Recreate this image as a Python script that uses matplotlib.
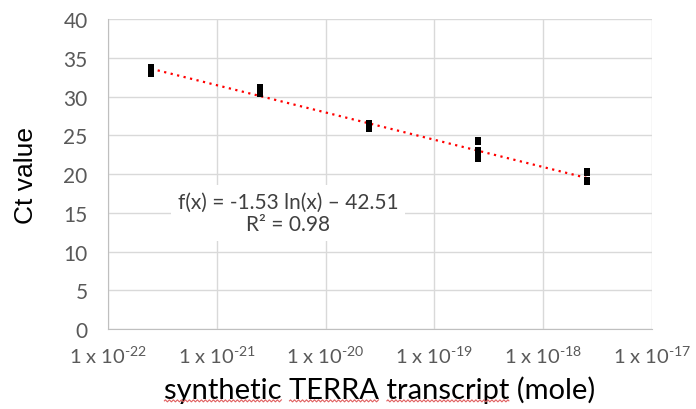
import matplotlib
matplotlib.use("Agg")
import matplotlib.pyplot as plt
import numpy as np
from matplotlib.ticker import FixedLocator, FuncFormatter, NullLocator
from matplotlib.lines import Line2D

# data
x_mole = [2.5e-22, 2.5e-22, 2.5e-21, 2.5e-21, 2.5e-20, 2.5e-20,
          2.5e-19, 2.5e-19, 2.5e-19, 2.5e-18, 2.5e-18]
ct = [33.7, 33.0, 31.1, 30.5, 26.5, 25.9, 24.3, 23.0, 22.1, 20.3, 19.1]
slope = -1.53
intercept = -42.51
r2 = 0.98
x_ticks = [1e-22, 1e-21, 1e-20, 1e-19, 1e-18, 1e-17]
y_ticks = [0, 5, 10, 15, 20, 25, 30, 35, 40]
xlabel_text = 'synthetic TERRA transcript (mole)'
flagged_words = ['synthetic', 'TERRA', 'transcript']

plt.rcParams['font.family'] = ['Lato', 'DejaVu Sans']
plt.rcParams['mathtext.fontset'] = 'custom'
plt.rcParams['mathtext.rm'] = 'Lato'
plt.rcParams['mathtext.it'] = 'Lato'

fig = plt.figure(figsize=(6.96, 4.10), dpi=100)
ax = fig.add_axes([0.155, 0.195, 0.782, 0.756])

ax.set_xscale('log')
ax.set_xlim(1e-22, 1e-17)
ax.set_ylim(0, 40)
ax.xaxis.set_major_locator(FixedLocator(x_ticks))
ax.xaxis.set_minor_locator(NullLocator())
ax.set_yticks(y_ticks)

def fmt(v, pos):
    e = int(round(np.log10(v)))
    return r'1 x 10$^{\text{-%d}}$' % abs(e)
ax.xaxis.set_major_formatter(FuncFormatter(fmt))

ax.grid(True, color='#d9d9d9', linewidth=1.0)
ax.set_axisbelow(True)
for s in ['top', 'right']:
    ax.spines[s].set_visible(False)
for s in ['left', 'bottom']:
    ax.spines[s].set_color('#bfbfbf')
ax.tick_params(axis='both', length=0, colors='#595959')
ax.tick_params(axis='y', pad=14.5, labelsize=15)
ax.tick_params(axis='x', pad=11, labelsize=14.5)

# trendline
xs = np.logspace(np.log10(min(x_mole)), np.log10(max(x_mole)), 50)
ax.plot(xs, slope * np.log(xs) + intercept, color='#ff0000',
        linestyle=(0, (1, 2)), linewidth=1.6, zorder=3)

rect = [(-0.45, -0.5), (0.45, -0.5), (0.45, 0.5), (-0.45, 0.5), (-0.45, -0.5)]
ax.scatter(x_mole, ct, marker=rect, s=28, color='black', zorder=4, linewidths=0)

ax.text(4.5e-21, 15.0, 'f(x) = %.2f ln(x) – %.2f\nR² = %.2f' % (slope, -intercept, r2),
        ha='center', va='center', fontsize=15, color='#404040', linespacing=1.15,
        bbox=dict(facecolor='white', edgecolor='none', pad=5))

ax.set_ylabel('Ct value', fontsize=19, color='black', labelpad=18,
              family=['Liberation Sans', 'DejaVu Sans'])
ax.set_xlabel(xlabel_text, fontsize=21, color='black', labelpad=7)

# red spell-check squiggles under flagged words
fig.canvas.draw()
renderer = fig.canvas.get_renderer()
lab = ax.xaxis.label
bb = lab.get_window_extent(renderer)
prop = lab.get_fontproperties()
full_w, _, desc = renderer.get_text_width_height_descent(xlabel_text, prop, ismath=False)
x_start = bb.x0 + (bb.width - full_w) / 2
base_y = bb.y0 + desc
W, H = fig.bbox.width, fig.bbox.height
for w in flagged_words:
    i = xlabel_text.index(w)
    x0 = x_start + (renderer.get_text_width_height_descent(xlabel_text[:i], prop, ismath=False)[0] if i > 0 else 0)
    x1 = x_start + renderer.get_text_width_height_descent(xlabel_text[:i + len(w)], prop, ismath=False)[0]
    xx = np.arange(x0, x1, 1.0)
    yy = base_y - 3 + 1.0 * np.sin((xx - x0) * np.pi / 2)
    fig.add_artist(Line2D(xx / W, yy / H, color='#e06060', linewidth=0.8,
                          transform=fig.transFigure))

fig.savefig('out.png', dpi=100)
